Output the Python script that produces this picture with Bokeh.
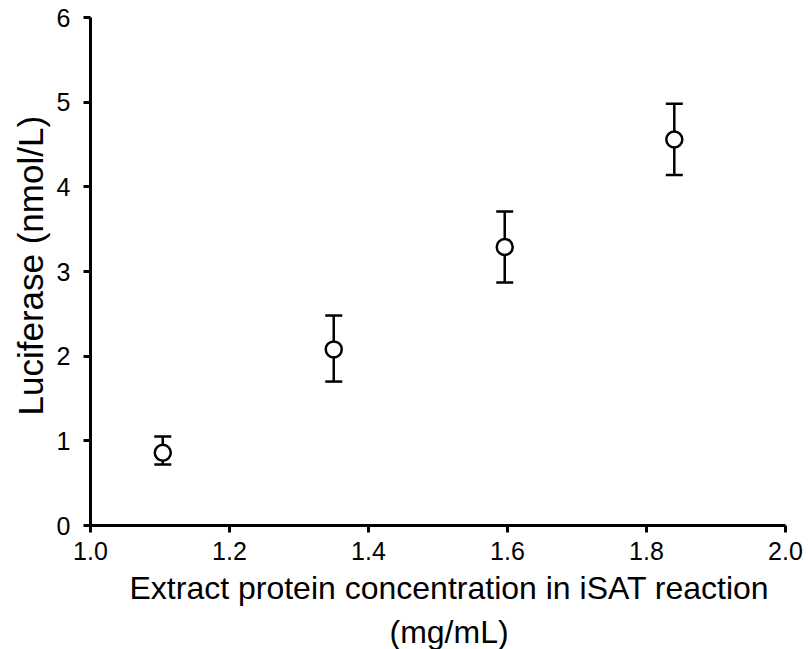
from bokeh.plotting import figure
from bokeh.models import Range1d, FixedTicker, NumeralTickFormatter, ColumnDataSource, Title
from bokeh.embed import file_html
from bokeh.resources import INLINE

# Data
conc = [1.104, 1.350, 1.596, 1.840]
luciferase = [0.86, 2.08, 3.29, 4.56]
err_low = [0.72, 1.70, 2.87, 4.14]
err_high = [1.05, 2.48, 3.71, 4.98]
x_ticks = [1.0, 1.2, 1.4, 1.6, 1.8, 2.0]
y_ticks = [0, 1, 2, 3, 4, 5, 6]
x_title = ["Extract protein concentration in iSAT reaction", "(mg/mL)"]
y_title = "Luciferase (nmol/L)"

src = ColumnDataSource(dict(x=conc, y=luciferase, lo=err_low, hi=err_high))

FONT = "Liberation Sans"

p = figure(frame_width=695, frame_height=508, output_backend="svg", toolbar_location=None,
           x_range=Range1d(1.0, 2.0), y_range=Range1d(0, 6),
           min_border_left=90, min_border_right=23, min_border_top=17, min_border_bottom=124)
p.outline_line_color = None
p.grid.visible = False

# error bars
p.segment(x0="x", y0="lo", x1="x", y1="hi", source=src, line_color="black", line_width=2.5)
p.scatter(x="x", y="hi", source=src, marker="dash", size=17, line_color="black", line_width=2.5)
p.scatter(x="x", y="lo", source=src, marker="dash", size=17, line_color="black", line_width=2.5)
# points
p.scatter(x="x", y="y", source=src, marker="circle", size=16, fill_color="white",
          line_color="black", line_width=2.5)

for ax in (p.xaxis[0], p.yaxis[0]):
    ax.axis_line_color = "black"
    ax.axis_line_width = 3
    ax.major_tick_line_color = "black"
    ax.major_tick_line_width = 3
    ax.major_tick_out = 7
    ax.major_tick_in = 0
    ax.minor_tick_line_color = None
    ax.major_label_text_font = FONT
    ax.major_label_text_font_size = "25px"
    ax.major_label_text_color = "black"

p.xaxis.ticker = FixedTicker(ticks=x_ticks)
p.xaxis.formatter = NumeralTickFormatter(format="0.0")
p.yaxis.ticker = FixedTicker(ticks=y_ticks)
p.xaxis.major_label_standoff = 9
p.yaxis.major_label_standoff = 13

# y-axis title
p.add_layout(Title(text=y_title, align="left", offset=110, standoff=8,
                   text_font=FONT, text_font_size="35px", text_font_style="normal",
                   text_color="black"), "left")

# x-axis title, two lines
p.add_layout(Title(text=x_title[0], align="left", offset=39, standoff=11,
                   text_font=FONT, text_font_size="32px", text_font_style="normal",
                   text_color="black"), "below")
p.add_layout(Title(text=x_title[1], align="left", offset=299, standoff=0,
                   text_font=FONT, text_font_size="32px", text_font_style="normal",
                   text_color="black"), "below")

open("out.html", "w").write(file_html(p, INLINE))
